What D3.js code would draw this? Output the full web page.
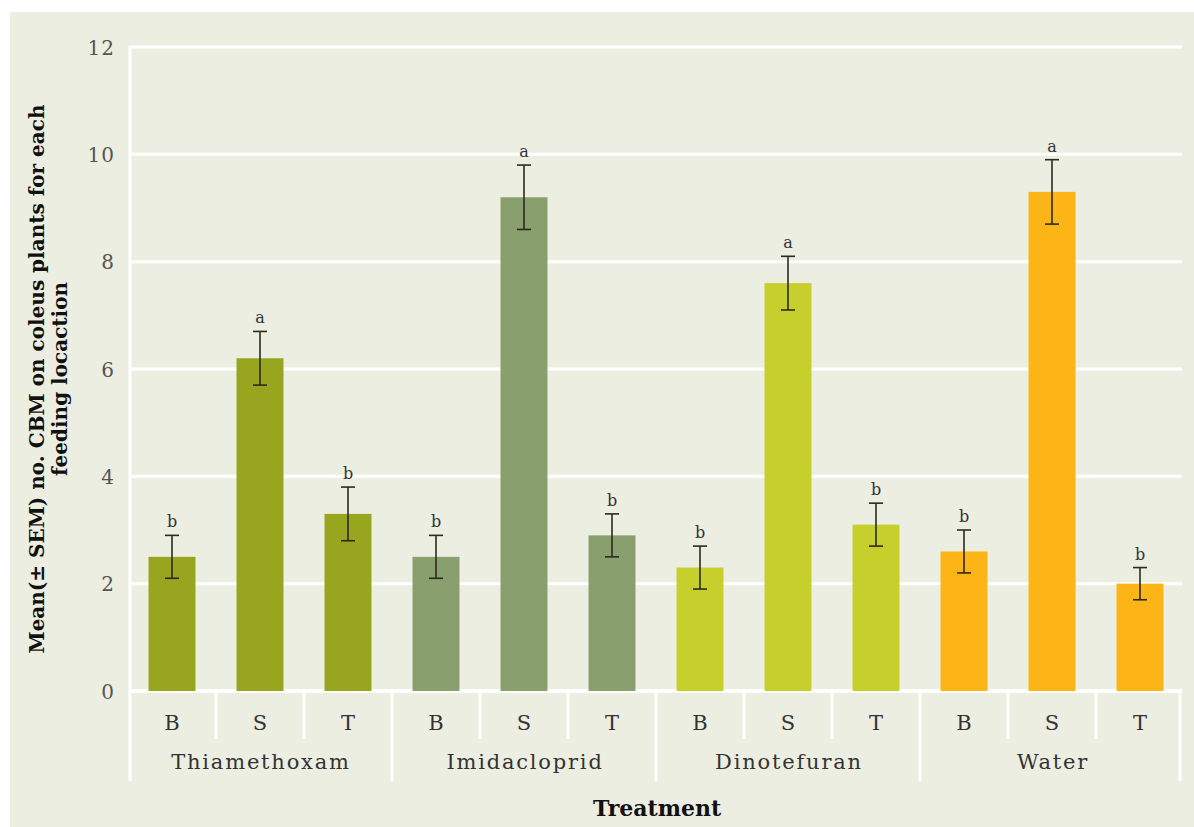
<!DOCTYPE html>
<html>
<head>
<meta charset="utf-8">
<script src="https://cdn.jsdelivr.net/npm/d3@7"></script>
<style>
  body { margin: 0; background: #fff; }
  svg { display: block; }
  .tick-label { font-family: "DejaVu Serif", serif; fill: #4a4a40; }
  .title { font-family: "DejaVu Serif", serif; font-weight: bold; fill: #111; }
</style>
</head>
<body>
<div id="chart"></div>
<script>
// Chart data
var treatments = ["Thiamethoxam", "Imidacloprid", "Dinotefuran", "Water"];
var locations = ["B", "S", "T"];
var means = [
    [2.5, 6.2, 3.3],
    [2.5, 9.2, 2.9],
    [2.3, 7.6, 3.1],
    [2.6, 9.3, 2.0]
];
var sems = [
    [0.4, 0.5, 0.5],
    [0.4, 0.6, 0.4],
    [0.4, 0.5, 0.4],
    [0.4, 0.6, 0.3]
];
var letters = [
    ["b", "a", "b"],
    ["b", "a", "b"],
    ["b", "a", "b"],
    ["b", "a", "b"]
];
var colors = ["#98a61f", "#8a9f6e", "#c6cf2b", "#fcb416"];
var yTicks = [0, 2, 4, 6, 8, 10, 12];

(function () {
    var width = 1194, height = 827;
    var svg = d3.select("#chart").append("svg")
        .attr("width", width)
        .attr("height", height);

    // panel background
    svg.append("rect")
        .attr("x", 10).attr("y", 12)
        .attr("width", width - 10).attr("height", height - 12)
        .attr("fill", "#edeee2");

    // flatten bars
    var bars = [];
    treatments.forEach(function (t, i) {
        locations.forEach(function (l, j) {
            bars.push({
                key: t + "-" + l, treat: t, loc: l, gi: i, li: j,
                mean: means[i][j], sem: sems[i][j], letter: letters[i][j]
            });
        });
    });

    var left = 130, right = 1182;
    var x = d3.scaleBand()
        .domain(bars.map(function (d) { return d.key; }))
        .range([128, 1184])
        .paddingInner(0.466)
        .paddingOuter(0.233);
    var y = d3.scaleLinear().domain([0, 12]).range([691, 47]);

    // horizontal gridlines
    svg.append("g").selectAll("line")
        .data(yTicks)
        .join("line")
        .attr("x1", left).attr("x2", right)
        .attr("y1", function (d) { return y(d); })
        .attr("y2", function (d) { return y(d); })
        .attr("stroke", "#fff")
        .attr("stroke-width", function (d) { return d === 0 ? 4 : 3; });

    // left axis line
    svg.append("line")
        .attr("x1", left).attr("x2", left)
        .attr("y1", y(12) - 1).attr("y2", 781)
        .attr("stroke", "#fff").attr("stroke-width", 3);

    // y axis tick labels
    var yAxis = d3.axisLeft(y).tickValues(yTicks).tickSize(0).tickPadding(15);
    var gy = svg.append("g").attr("transform", "translate(" + left + ",0)").call(yAxis);
    gy.select(".domain").remove();
    gy.selectAll("text")
        .attr("class", "tick-label")
        .attr("font-size", 20)
        .attr("letter-spacing", 1)
        .style("fill", "#555")
        .attr("dy", "0.35em");

    // category separators below the axis
    var step = x.step();
    bars.forEach(function (d, k) {
        var xr = x(d.key) + x.bandwidth() / 2 + step / 2;
        if (k === bars.length - 1) return;
        var isGroup = d.li === 2;
        svg.append("line")
            .attr("x1", xr).attr("x2", xr)
            .attr("y1", y(0))
            .attr("y2", isGroup ? 781 : 739)
            .attr("stroke", "#fff").attr("stroke-width", 3);
    });
    // right edge line
    svg.append("line")
        .attr("x1", 1180).attr("x2", 1180)
        .attr("y1", y(0)).attr("y2", 781)
        .attr("stroke", "#fff").attr("stroke-width", 3);

    // bars
    svg.append("g").selectAll("rect")
        .data(bars)
        .join("rect")
        .attr("x", function (d) { return x(d.key); })
        .attr("y", function (d) { return y(d.mean); })
        .attr("width", x.bandwidth())
        .attr("height", function (d) { return y(0) - y(d.mean); })
        .attr("fill", function (d) { return colors[d.gi]; });

    // error bars
    var eb = svg.append("g").attr("stroke", "#2b2b1c").attr("stroke-width", 1.6);
    bars.forEach(function (d) {
        var cx = x(d.key) + x.bandwidth() / 2;
        var hi = y(d.mean + d.sem), lo = y(d.mean - d.sem);
        eb.append("line").attr("x1", cx).attr("x2", cx).attr("y1", hi).attr("y2", lo);
        eb.append("line").attr("x1", cx - 7).attr("x2", cx + 7).attr("y1", hi).attr("y2", hi);
        eb.append("line").attr("x1", cx - 7).attr("x2", cx + 7).attr("y1", lo).attr("y2", lo);
    });

    // significance letters
    svg.append("g").selectAll("text")
        .data(bars)
        .join("text")
        .attr("class", "tick-label")
        .attr("x", function (d) { return x(d.key) + x.bandwidth() / 2; })
        .attr("y", function (d) { return y(d.mean + d.sem) - 8; })
        .attr("text-anchor", "middle")
        .attr("font-size", 16)
        .style("fill", "#333")
        .text(function (d) { return d.letter; });

    // location labels
    svg.append("g").selectAll("text")
        .data(bars)
        .join("text")
        .attr("class", "tick-label")
        .attr("x", function (d) { return x(d.key) + x.bandwidth() / 2; })
        .attr("y", 723)
        .attr("dy", "0.35em")
        .attr("text-anchor", "middle")
        .attr("font-size", 21)
        .style("fill", "#333")
        .text(function (d) { return d.loc; });

    // treatment labels
    treatments.forEach(function (t, i) {
        var k0 = bars[i * 3], k2 = bars[i * 3 + 2];
        var cx = (x(k0.key) + x(k2.key) + x.bandwidth()) / 2;
        svg.append("text")
            .attr("class", "tick-label")
            .attr("x", cx + 1)
            .attr("y", 762)
            .attr("dy", "0.35em")
            .attr("text-anchor", "middle")
            .attr("font-size", 21)
            .attr("letter-spacing", 1.8)
            .style("fill", "#333")
            .text(t);
    });

    // axis titles
    svg.append("text")
        .attr("class", "title")
        .attr("x", 657).attr("y", 808)
        .attr("dy", "0.35em")
        .attr("text-anchor", "middle")
        .attr("font-size", 22)
        .text("Treatment");

    var yt = svg.append("text")
        .attr("class", "title")
        .attr("transform", "translate(37,379) rotate(-90)")
        .attr("text-anchor", "middle")
        .attr("font-size", 20);
    yt.append("tspan").attr("x", 0).attr("dy", "0.35em")
        .text("Mean(± SEM) no. CBM on coleus plants for each");
    yt.append("tspan").attr("x", 0).attr("dy", "1.15em")
        .text("feeding locaction");
})();
</script>
</body>
</html>
